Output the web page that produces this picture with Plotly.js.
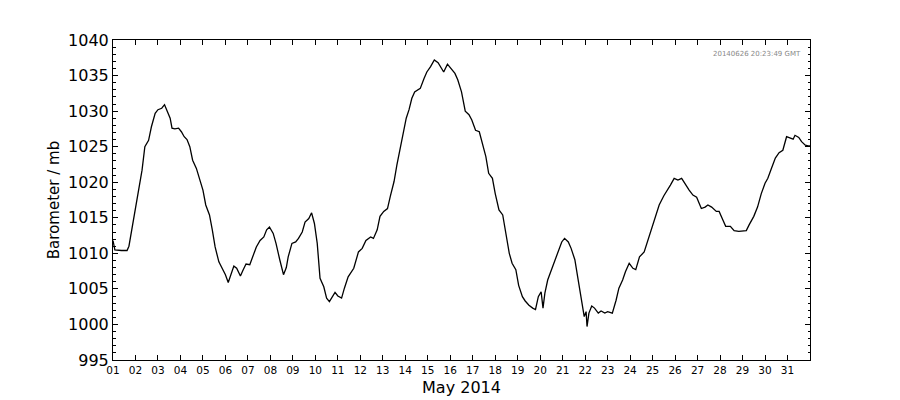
<!DOCTYPE html>
<html>
<head>
<meta charset="utf-8">
<script src="https://cdn.plot.ly/plotly-3.0.1.min.js"></script>
<style>html,body{margin:0;padding:0;background:#fff;}#chart{width:900px;height:400px;}</style>
</head>
<body>
<div id="chart"></div>
<script>
var times = [
"2014-05-01 00:00","2014-05-01 02:00","2014-05-01 09:00","2014-05-01 15:00","2014-05-01 17:00","2014-05-01 20:00",
"2014-05-02 00:00","2014-05-02 03:00","2014-05-02 07:00","2014-05-02 10:00","2014-05-02 14:00","2014-05-02 17:00","2014-05-02 21:00",
"2014-05-03 00:00","2014-05-03 04:00","2014-05-03 07:00","2014-05-03 09:00","2014-05-03 13:00","2014-05-03 15:00","2014-05-03 18:00","2014-05-03 22:00",
"2014-05-04 01:00","2014-05-04 04:00","2014-05-04 07:00","2014-05-04 10:00","2014-05-04 13:00","2014-05-04 17:00","2014-05-04 20:00",
"2014-05-05 00:00","2014-05-05 03:00","2014-05-05 07:00","2014-05-05 10:00","2014-05-05 13:00","2014-05-05 17:00","2014-05-05 20:00",
"2014-05-06 00:00","2014-05-06 03:00","2014-05-06 06:00","2014-05-06 09:00","2014-05-06 12:00","2014-05-06 16:00","2014-05-06 19:00","2014-05-06 22:00",
"2014-05-07 02:00","2014-05-07 05:00","2014-05-07 09:00","2014-05-07 13:00","2014-05-07 17:00","2014-05-07 20:00","2014-05-07 23:00",
"2014-05-08 03:00","2014-05-08 06:00","2014-05-08 10:00","2014-05-08 14:00","2014-05-08 17:00","2014-05-08 19:00","2014-05-08 23:00",
"2014-05-09 03:00","2014-05-09 06:00","2014-05-09 10:00","2014-05-09 13:00","2014-05-09 17:00","2014-05-09 20:00","2014-05-09 23:00",
"2014-05-10 02:00","2014-05-10 04:00","2014-05-10 05:00","2014-05-10 09:00","2014-05-10 12:00","2014-05-10 15:00","2014-05-10 18:00","2014-05-10 21:00",
"2014-05-11 00:00","2014-05-11 04:00","2014-05-11 07:00","2014-05-11 11:00","2014-05-11 17:00","2014-05-11 22:00",
"2014-05-12 02:00","2014-05-12 06:00","2014-05-12 11:00","2014-05-12 14:00","2014-05-12 18:00","2014-05-12 21:00",
"2014-05-13 01:00","2014-05-13 05:00","2014-05-13 08:00","2014-05-13 12:00","2014-05-13 15:00","2014-05-13 19:00","2014-05-13 22:00",
"2014-05-14 01:00","2014-05-14 04:00","2014-05-14 07:00","2014-05-14 10:00","2014-05-14 14:00","2014-05-14 16:00","2014-05-14 20:00","2014-05-14 23:00",
"2014-05-15 03:00","2014-05-15 07:00","2014-05-15 11:00","2014-05-15 15:00","2014-05-15 17:00","2014-05-15 21:00",
"2014-05-16 01:00","2014-05-16 05:00","2014-05-16 08:00","2014-05-16 12:00","2014-05-16 16:00","2014-05-16 20:00","2014-05-16 23:00",
"2014-05-17 03:00","2014-05-17 07:00","2014-05-17 10:00","2014-05-17 14:00","2014-05-17 17:00","2014-05-17 21:00",
"2014-05-18 00:00","2014-05-18 04:00","2014-05-18 08:00","2014-05-18 11:00","2014-05-18 15:00","2014-05-18 18:00","2014-05-18 22:00",
"2014-05-19 01:00","2014-05-19 05:00","2014-05-19 08:00","2014-05-19 12:00","2014-05-19 16:00","2014-05-19 19:00","2014-05-19 22:00",
"2014-05-20 00:00","2014-05-20 01:00","2014-05-20 03:00","2014-05-20 05:00","2014-05-20 08:00","2014-05-20 12:00","2014-05-20 15:00","2014-05-20 19:00","2014-05-20 23:00",
"2014-05-21 02:00","2014-05-21 06:00","2014-05-21 09:00","2014-05-21 13:00","2014-05-21 16:00","2014-05-21 19:00","2014-05-21 21:00","2014-05-21 23:00",
"2014-05-22 01:00","2014-05-22 02:00","2014-05-22 04:00","2014-05-22 07:00","2014-05-22 10:00","2014-05-22 14:00","2014-05-22 17:00","2014-05-22 21:00",
"2014-05-23 00:00","2014-05-23 05:00","2014-05-23 09:00","2014-05-23 12:00","2014-05-23 16:00","2014-05-23 19:00","2014-05-23 23:00",
"2014-05-24 03:00","2014-05-24 06:00","2014-05-24 10:00","2014-05-24 15:00","2014-05-24 19:00","2014-05-24 22:00",
"2014-05-25 02:00","2014-05-25 07:00","2014-05-25 12:00","2014-05-25 16:00","2014-05-25 19:00","2014-05-25 23:00",
"2014-05-26 03:00","2014-05-26 07:00","2014-05-26 10:00","2014-05-26 15:00","2014-05-26 19:00","2014-05-26 23:00",
"2014-05-27 04:00","2014-05-27 08:00","2014-05-27 11:00","2014-05-27 15:00","2014-05-27 20:00","2014-05-27 23:00",
"2014-05-28 03:00","2014-05-28 06:00","2014-05-28 11:00","2014-05-28 15:00","2014-05-28 20:00",
"2014-05-29 04:00","2014-05-29 07:00","2014-05-29 12:00","2014-05-29 16:00","2014-05-29 20:00",
"2014-05-30 00:00","2014-05-30 03:00","2014-05-30 07:00","2014-05-30 11:00","2014-05-30 15:00","2014-05-30 19:00","2014-05-30 23:00",
"2014-05-31 03:00","2014-05-31 06:00","2014-05-31 08:00","2014-05-31 12:00","2014-05-31 15:00","2014-05-31 19:00","2014-05-31 22:00","2014-05-31 23:59"
];
var pressure = [
1011.8,1010.5,1010.4,1010.4,1011.0,1013.3,
1016.6,1018.4,1021.7,1025.0,1025.9,1027.8,1029.7,
1030.2,1030.4,1030.9,1030.2,1029.0,1027.6,1027.5,1027.6,
1027.1,1026.4,1026.0,1025.0,1023.1,1021.95,1020.6,
1018.9,1016.8,1015.4,1013.3,1010.9,1008.8,1008.1,
1007.0,1005.9,1007.0,1008.2,1007.9,1006.8,1007.7,1008.5,
1008.4,1009.5,1010.9,1011.8,1012.3,1013.3,1013.7,
1012.8,1011.4,1009.1,1007.0,1008.0,1009.5,1011.4,
1011.6,1012.1,1013.0,1014.4,1014.9,1015.7,1014.2,
1011.4,1008.6,1006.5,1005.3,1003.7,1003.2,1003.9,1004.5,
1004.0,1003.7,1005.1,1006.7,1007.9,1010.2,
1010.7,1011.8,1012.3,1012.1,1013.3,1015.2,
1015.9,1016.3,1018.0,1020.1,1022.4,1025.0,1027.3,
1029.0,1030.2,1031.8,1032.7,1033.1,1033.2,1034.6,1035.5,
1036.25,1037.2,1036.8,1036.0,1035.5,1036.6,
1036.0,1035.3,1034.4,1032.7,1030.0,1029.5,1028.75,
1027.3,1027.1,1025.7,1023.6,1021.25,1020.55,
1018.4,1016.1,1015.4,1012.8,1010.0,1008.6,1007.7,
1005.5,1003.9,1003.3,1002.7,1002.3,1002.1,1003.9,
1004.4,1004.6,1002.3,1004.4,1006.25,1007.7,1008.6,1010.2,1011.6,
1012.1,1011.6,1010.7,1009.1,1006.7,1004.4,1003.0,1001.1,
1001.8,999.7,1001.6,1002.6,1002.3,1001.6,1001.9,1001.6,
1001.8,1001.6,1003.4,1005.1,1006.25,1007.4,1008.6,
1007.9,1007.7,1009.5,1010.2,1011.9,1013.3,
1014.9,1016.8,1018.1,1018.9,1019.6,1020.55,
1020.3,1020.55,1019.85,1018.9,1018.2,1017.9,
1016.3,1016.5,1016.8,1016.5,1015.9,1015.9,
1014.7,1013.8,1013.8,1013.2,1013.1,
1013.2,1014.0,1015.2,1016.5,1018.4,
1019.85,1020.55,1022.0,1023.4,1024.15,1024.5,1026.4,
1026.2,1026.05,1026.6,1026.3,1025.7,1025.2,1025.1,1025.1
];
var dayLabels = ["01","02","03","04","05","06","07","08","09","10","11","12","13","14","15","16",
                 "17","18","19","20","21","22","23","24","25","26","27","28","29","30","31"];
var xAxisTitle = "May 2014";
var yAxisTitle = "Barometer / mb";
var stampText = "20140626 20:23:49 GMT";

var dayTicks = dayLabels.map(function (d) { return "2014-05-" + d; });
var font = "DejaVu Sans, sans-serif";
var trace = {
  x: times, y: pressure, type: "scatter", mode: "lines",
  line: {color: "#000000", width: 1.3}, hoverinfo: "skip"
};
var layout = {
  width: 900, height: 400,
  margin: {l: 113, r: 90, t: 40, b: 40, pad: 0},
  paper_bgcolor: "#ffffff", plot_bgcolor: "#ffffff",
  showlegend: false,
  font: {family: font, color: "#000000"},
  xaxis: {
    type: "date",
    range: ["2014-05-01 00:00", "2014-06-01 00:00"],
    tickmode: "array", tickvals: dayTicks, ticktext: dayLabels,
    ticks: "inside", ticklen: 5, tickwidth: 1, tickcolor: "#000",
    showline: true, linecolor: "#000", linewidth: 1, mirror: "ticks",
    showgrid: false, zeroline: false,
    tickfont: {family: font, size: 10.5, color: "#000"},
    title: {text: xAxisTitle, font: {family: font, size: 16, color: "#000"}, standoff: 7}
  },
  yaxis: {
    range: [995, 1040], dtick: 5, tick0: 995,
    ticks: "inside", ticklen: 5, tickwidth: 1, tickcolor: "#000",
    minor: {dtick: 1, ticks: "inside", ticklen: 2.5, tickcolor: "#000", showgrid: false},
    showline: true, linecolor: "#000", linewidth: 1, mirror: "ticks",
    showgrid: false, zeroline: false,
    tickfont: {family: font, size: 16, color: "#000"},
    title: {text: yAxisTitle, font: {family: font, size: 15, color: "#000"}, standoff: 4}
  },
  annotations: [{
    text: stampText, xref: "paper", yref: "paper", x: 0.99, y: 0.975,
    xanchor: "right", yanchor: "top", showarrow: false,
    font: {family: font, size: 7, color: "#888888"}
  }]
};
Plotly.newPlot("chart", [trace], layout, {staticPlot: true, displayModeBar: false});
</script>
</body>
</html>
